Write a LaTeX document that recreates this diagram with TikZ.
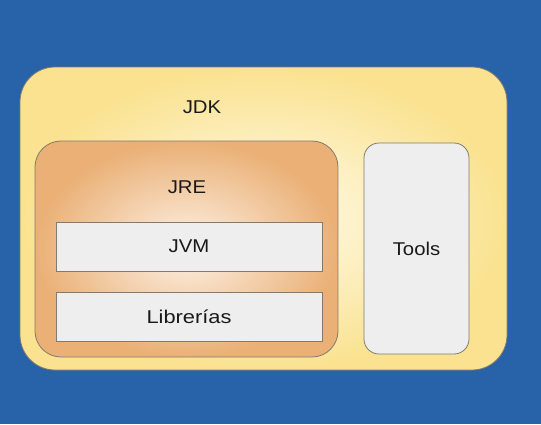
\documentclass[tikz,border=0pt]{standalone}
\usepackage{graphicx}
\usepackage{fontspec}
\setmainfont{Liberation Sans}
\definecolor{bgblue}{RGB}{40,98,168}
\definecolor{jdkin}{RGB}{255,251,236}
\definecolor{jdkout}{RGB}{250,226,144}
\definecolor{jrein}{RGB}{253,242,230}
\definecolor{jreout}{RGB}{234,176,118}
\definecolor{boxgray}{RGB}{238,238,238}
\definecolor{edge}{RGB}{130,122,110}
\newcommand{\widetext}[2][1.1]{\scalebox{#1}[1]{#2}}
\tikzset{
  layer/.style={draw=edge,line width=.8pt,minimum width=#1},
  lbl/.style={font=\fontsize{18.5}{22}\selectfont,text=black!90},
}
\begin{document}
\begin{tikzpicture}[x=1pt,y=-1pt]
  \fill[bgblue] (0,0) rectangle (541,424);
  \useasboundingbox (0,0) rectangle (541,424);

  %% JDK
  \node (jdk) at (263.5,218.5) [layer=487pt,minimum height=303pt,rounded corners=35pt,
    inner color=jdkin,outer color=jdkout] {};
  \node (jdklbl) at (202,107) [lbl] {\widetext{JDK}};

  %% JRE
  \node (jre) at (186.5,249) [layer=303pt,minimum height=216pt,rounded corners=26pt,
    inner color=jrein,outer color=jreout] {};
  \node (jrelbl) at (187,187) [lbl] {\widetext{JRE}};

  %% JVM and libraries
  \node (jvm) at (189,246.5) [layer=266pt,minimum height=49pt,fill=boxgray,lbl] {\widetext{JVM}};
  \node (libs) at (189,316.5) [layer=266pt,minimum height=49pt,fill=boxgray,lbl] {\widetext[1.18]{Librerías}};

  %% tools
  \node (tools) at (416.5,248.5) [layer=105pt,minimum height=211pt,rounded corners=15pt,
    fill=boxgray,lbl] {\widetext{Tools}};
\end{tikzpicture}
\end{document}
